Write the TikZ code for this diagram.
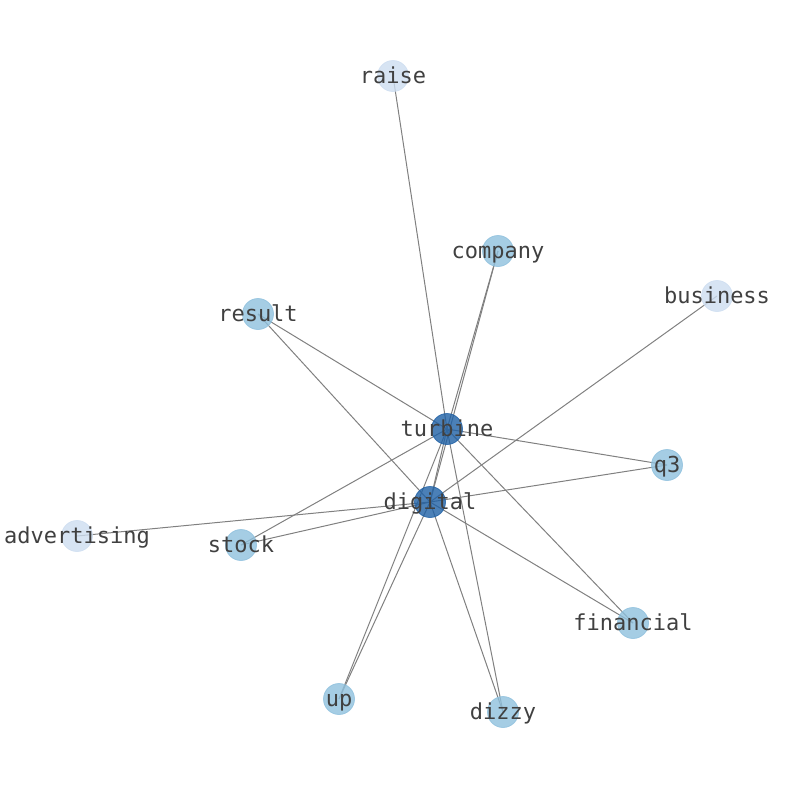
\documentclass[tikz,border=0pt]{standalone}
\usepackage{fontspec}
\setmonofont{DejaVu Sans Mono}
\usepackage{tikz}
\usetikzlibrary{backgrounds}
\definecolor{hubblue}{RGB}{30,96,165}
\definecolor{midblue}{RGB}{142,192,221}
\definecolor{paleblue}{RGB}{205,221,240}
\definecolor{wordgray}{RGB}{64,64,64}
\definecolor{edgegray}{RGB}{128,128,128}

\begin{document}
\begin{tikzpicture}[
  x=1pt, y=-1pt,
  every label/.style={font=\ttfamily\fontsize{22}{26}\selectfont, text=wordgray, inner sep=0pt, text height=0.74em, text depth=0.2em, yshift=-5pt},
  vtx/.style={circle, inner sep=0pt, minimum size=31pt, line width=0.8pt, fill opacity=0.8, draw opacity=0.8},
  hub/.style={vtx, fill=hubblue, draw=hubblue},
  word/.style={vtx, fill=midblue, draw=midblue},
  rare/.style={vtx, fill=paleblue, draw=paleblue},
  link/.style={draw=edgegray, line width=1pt}
]
\useasboundingbox (0,0) rectangle (794,790);

\node[hub] (turbine) at (447,429) [label=center:turbine] {};
\node[hub] (digital) at (430,502) [label=center:digital] {};
\node[rare] (raise) at (393,76) [label=center:raise] {};
\node[word] (company) at (498,251) [label=center:company] {};
\node[rare] (business) at (717,296) [label=center:business] {};
\node[word] (result) at (258,314) [label=center:result] {};
\node[word] (q3) at (667,465) [label=center:q3] {};
\node[rare] (advertising) at (77,536) [label=center:advertising] {};
\node[word] (stock) at (241,545) [label=center:stock] {};
\node[word] (financial) at (633,623) [label=center:financial] {};
\node[word] (up) at (339,699) [label=center:up] {};
\node[word] (dizzy) at (503,712) [label=center:dizzy] {};

\begin{scope}[on background layer]
\foreach \w in {raise,company,result,q3,stock,financial,up,dizzy,digital}
  \draw[link] (turbine.center) -- (\w.center);
\foreach \w in {company,business,result,q3,advertising,stock,financial,up,dizzy}
  \draw[link] (digital.center) -- (\w.center);
\end{scope}
\end{tikzpicture}
\end{document}
